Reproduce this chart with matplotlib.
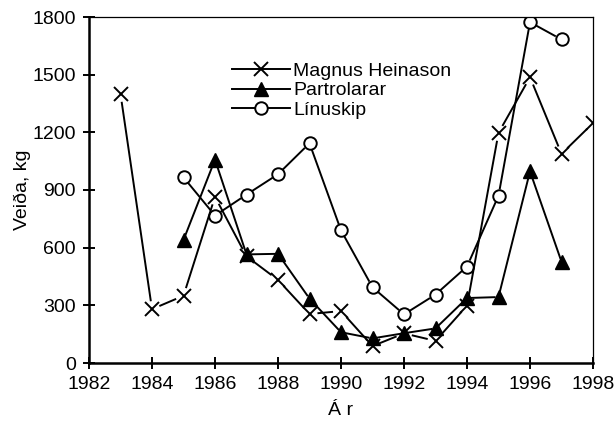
import matplotlib
matplotlib.use("Agg")
import matplotlib.pyplot as plt
from matplotlib.lines import Line2D
import numpy as np

plt.rcParams['font.family'] = ['Liberation Sans', 'DejaVu Sans']

years_mh = [1983, 1984, 1985, 1986, 1987, 1988, 1989, 1990, 1991, 1992, 1993, 1994, 1995, 1996, 1997, 1998]
magnus = [1400, 280, 350, 865, 555, 432, 255, 270, 88, 154, 115, 298, 1197, 1487, 1088, 1248]

years_p = [1985, 1986, 1987, 1988, 1989, 1990, 1991, 1992, 1993, 1994, 1995, 1996, 1997]
partrolarar = [640, 1058, 565, 568, 335, 160, 128, 155, 180, 338, 343, 997, 527]

years_l = [1985, 1986, 1987, 1988, 1989, 1990, 1991, 1992, 1993, 1994, 1995, 1996, 1997]
linuskip = [966, 767, 876, 982, 1143, 690, 394, 253, 356, 502, 870, 1773, 1683]

labels = ['Magnus Heinason', 'Partrolarar', 'Línuskip']
xticks = list(range(1982, 1999, 2))
yticks = list(range(0, 1801, 300))

FS = 14
fig = plt.figure(figsize=(6.15, 4.34), dpi=100)
ax = fig.add_axes([89/615, 1-363/434, (593-89)/615, (363-17)/434])
ax.set_xlim(1982, 1998)
ax.set_ylim(0, 1800)


def gapped_line(x, y, gap_px, **kw):
    """Draw the polyline with each segment stopped short of the markers (Excel style)."""
    pts = ax.transData.transform(np.column_stack([x, y]))
    inv = ax.transData.inverted()
    for p0, p1 in zip(pts[:-1], pts[1:]):
        d = p1 - p0
        L = np.hypot(*d)
        if L <= 2 * gap_px:
            continue
        u = d / L
        a = inv.transform(p0 + u * gap_px)
        b = inv.transform(p1 - u * gap_px)
        ax.plot([a[0], b[0]], [a[1], b[1]], color='black', lw=1.4, solid_capstyle='butt', **kw)


gapped_line(years_mh, magnus, 8)
ax.plot(years_mh, magnus, ls='none', color='black', marker='x', ms=10, mew=1.4)

gapped_line(years_p, partrolarar, 3)
ax.plot(years_p, partrolarar, ls='none', color='black', marker='^', ms=10, mfc='black')

gapped_line(years_l, linuskip, 6.5)
ax.plot(years_l, linuskip, ls='none', color='black', marker='o', ms=9, mfc='none', mew=1.4)

ax.set_xticks(xticks)
ax.set_yticks(yticks)
ax.tick_params(direction='inout', length=9, width=1.4, labelsize=FS, colors='black', pad=5)
for s in ['left', 'bottom']:
    ax.spines[s].set_linewidth(1.8)
for s in ['top', 'right']:
    ax.spines[s].set_linewidth(0.9)

ax.set_xlabel('Á r', fontsize=FS, labelpad=6)
ax.set_ylabel('Veiða, kg', fontsize=FS, labelpad=1)

handles = [
    Line2D([], [], color='black', lw=1.4, marker='x', ms=10, mew=1.4),
    Line2D([], [], color='black', lw=1.4, marker='^', ms=10, mfc='black'),
    Line2D([], [], color='black', lw=1.4, marker='o', ms=9, mfc='white', mew=1.4),
]
ax.legend(handles, labels, loc='upper left', bbox_to_anchor=(0.283, 0.868), frameon=False, fontsize=FS,
          handlelength=3, labelspacing=0.08, handletextpad=0.15, borderpad=0, borderaxespad=0)

fig.savefig('out.png', dpi=100)
